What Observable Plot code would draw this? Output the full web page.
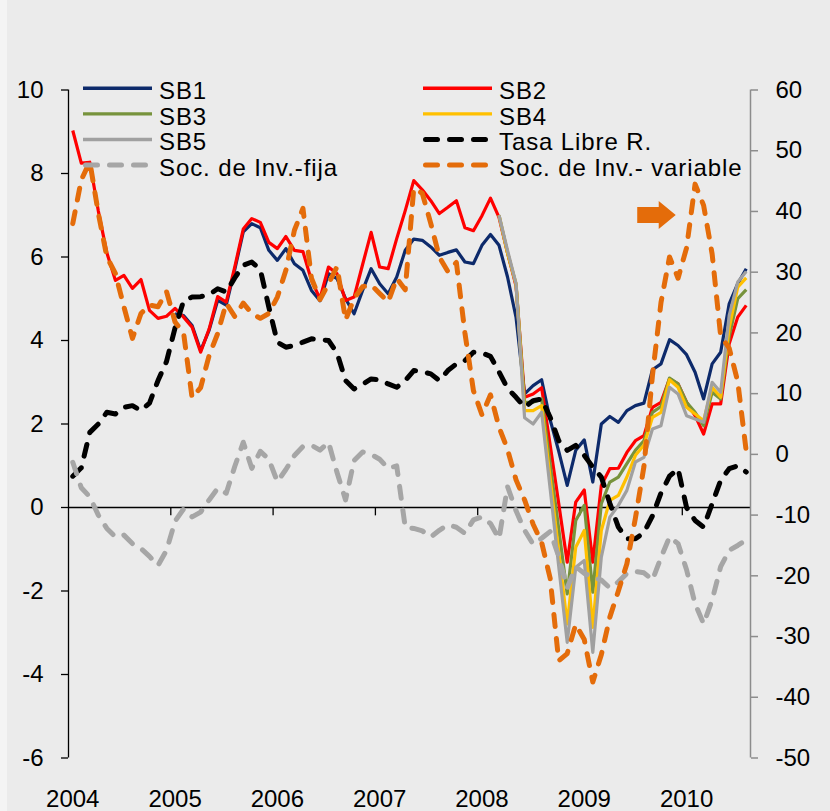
<!DOCTYPE html>
<html>
<head>
<meta charset="utf-8">
<script src="https://cdn.jsdelivr.net/npm/d3@7"></script>
<script src="https://cdn.jsdelivr.net/npm/@observablehq/plot@0.6"></script>
<style>
  html, body { margin: 0; padding: 0; background: #ebebeb; }
  #chart { position: relative; width: 830px; height: 811px; background: #ebebeb; overflow: hidden; }
  #strip { position: absolute; left: 0; top: 0; width: 7px; height: 811px; background: #f4f4f4; }
  #chart svg { position: absolute; left: 0; top: 0; }
</style>
</head>
<body>
<div id="chart"><div id="strip"></div></div>
<script>
// Monthly index: 0 = Jan 2004 ... 79 = Aug 2010
const years = ["2004", "2005", "2006", "2007", "2008", "2009", "2010"];
const leftTicks = [-6, -4, -2, 0, 2, 4, 6, 8, 10];
const rightTicks = [-50, -40, -30, -20, -10, 0, 10, 20, 30, 40, 50, 60];

// Left axis series (start month index given)
const sb1Start = 12;
const sb1 = [4.64, 4.6, 4.36, 3.76, 4.25, 4.96, 4.85, 5.7,
  6.6, 6.8, 6.7, 6.16, 5.92, 6.2, 5.84, 5.68, 5.2, 4.95,
  5.6, 5.48, 5.0, 4.64, 5.2, 5.72, 5.36, 5.12, 5.52, 6.16,
  6.43, 6.4, 6.24, 6.04, 6.11, 6.17, 5.88, 5.84, 6.28, 6.54,
  6.28, 5.52, 4.55, 2.72, 2.92, 3.06, 2.1, 1.35, 0.53, 1.37,
  1.62, 0.61, 2.0, 2.18, 2.04, 2.32, 2.44, 2.5, 3.3, 3.44,
  4.02, 3.88, 3.66, 3.24, 2.6, 3.44, 3.72, 4.88, 5.36, 5.72];
const sb2Start = 0;
const sb2 = [9.03, 8.25, 8.27, 7.1, 6.1, 5.44, 5.56, 5.25, 5.46, 4.72,
  4.53, 4.58, 4.77, 4.56, 4.32, 3.72, 4.28, 5.05, 4.92, 5.76,
  6.67, 6.92, 6.83, 6.35, 6.2, 6.49, 6.16, 6.13, 5.44, 5.0,
  5.76, 5.6, 4.96, 5.04, 5.82, 6.59, 5.76, 5.72, 6.44, 7.11,
  7.83, 7.61, 7.35, 7.04, 7.19, 7.35, 6.7, 6.63, 6.99, 7.41,
  6.95, 6.1, 5.3, 2.64, 2.72, 2.87, 1.5, 0.1, -1.31, 0.13,
  0.42, -1.31, 0.53, 0.93, 0.94, 1.32, 1.6, 1.72, 2.4, 2.52,
  3.08, 2.96, 2.52, 2.2, 1.76, 2.48, 2.48, 3.92, 4.56, 4.84];
const sb3Start = 50;
const sb3 = [7.0, 6.1, 5.35, 2.52, 2.52, 2.6, 1.04, -0.5, -2.07, -0.31,
  0.05, -2.03, 0.09, 0.61, 0.73, 1.05, 1.37, 1.6, 2.28, 2.42,
  3.1, 2.96, 2.52, 2.28, 1.96, 2.76, 2.6, 4.1, 5.0, 5.22];
const sb4Start = 50;
const sb4 = [7.0, 6.1, 5.35, 2.32, 2.32, 2.44, 0.7, -1.05, -2.79, -0.95,
  -0.55, -2.87, -0.55, 0.17, 0.29, 0.73, 1.25, 1.49, 2.16, 2.28,
  3.06, 2.88, 2.4, 2.24, 2.08, 2.88, 2.64, 4.3, 5.28, 5.5];
const sb5Start = 50;
const sb5 = [7.0, 6.16, 5.36, 2.15, 2.0, 2.28, 0.45, -1.4, -3.23, -1.43,
  -1.27, -3.47, -1.19, -0.23, 0.05, 0.41, 1.09, 1.2, 1.88, 1.96,
  2.88, 2.72, 2.2, 2.12, 2.04, 3.0, 2.76, 4.6, 5.4, 5.65];
const tasaStart = 0;
const tasa = [0.75, 0.95, 1.8, 2.0, 2.28, 2.24, 2.4, 2.44, 2.32, 2.5,
  3.04, 3.5, 4.3, 4.95, 5.04, 5.05, 5.1, 5.24, 5.16, 5.5,
  5.8, 5.88, 5.7, 4.8, 3.96, 3.84, 3.88, 3.96, 4.04, 4.02,
  4.0, 3.7, 3.04, 2.84, 2.95, 3.08, 3.06, 2.96, 2.88, 3.04,
  3.28, 3.25, 3.2, 3.04, 3.28, 3.44, 3.52, 3.72, 3.7, 3.62,
  3.25, 2.85, 2.64, 2.4, 2.56, 2.6, 2.16, 1.6, 1.37, 1.49,
  1.25, 0.97, 0.73, 0.1, -0.47, -0.75, -0.75, -0.6, -0.2, 0.35,
  0.75, 0.93, 0.0, -0.31, -0.47, 0.09, 0.65, 0.93, 1.0, 0.85];

// Right axis series
const fijaStart = 0;
const fija = [-1.3, -5.5, -7, -10, -12.2, -13.6, -13.3, -14.7, -15.5, -16.8,
  -18.3, -15.8, -11, -9, -10.3, -9.5, -7.5, -5.6, -6.4, -2,
  2, -2.3, 0.5, -0.8, -4.5, -2.5, -0.2, 1.3, 1.5, 0.7,
  2, -3, -7.5, -1, 0.4, 0, -0.8, -2.3, -1.9, -12,
  -12.2, -12.6, -13.6, -12.5, -11.6, -12, -13, -10.8, -10.3, -11.4,
  -13.9, -5.3, -9.3, -12.5, -14.8, -13.8, -12.7, -16.8, -22, -18.5,
  -19.6, -20.2, -20.7, -22, -21, -19.6, -19.3, -19.5, -20.7, -17,
  -13.6, -14.7, -19, -24.6, -27.9, -24, -18.5, -15.8, -15, -14.1];
const variableStart = 0;
const variable = [38.0, 45.2, 48.2, 39.7, 32.5, 29.8, 24.3, 19.1, 23.2, 24.6,
  24.3, 26.8, 21.8, 20.0, 9.3, 11.0, 16.3, 19.9, 24.9, 22.7,
  24.9, 23.2, 22.4, 23.2, 25.9, 30.3, 36.9, 40.5, 29, 25.5,
  28.1, 30.9, 22.1, 25.7, 27.6, 27.9, 26.5, 25.1, 29.0, 27.1,
  43.8, 43.0, 38.0, 32.5, 30.1, 31.6, 20, 10.5, 6.5, 9.8,
  4.5, 0.8, -4.2, -7.5, -11.5, -14.5, -20.4, -34, -32.8, -28,
  -30.5, -37.5, -33, -26.8, -22.5, -18, -10.5, -2, 13, 25,
  32.5, 29, 34, 44.5, 41, 33, 19.5, 17.5, 12, 0.5];

// annotation arrow (month index, right-axis value)
const arrowNote = [{month: 68.5, value: 39.4}];

// right axis (-50..60) mapped onto left axis (-6..10)
const toLeft = r => -6 + (r + 50) * 16 / 110;
const toRight = l => (l + 6) * 110 / 16 - 50;

const series = [
  {name: "SB1", start: sb1Start, values: sb1, axis: "left", color: "#0d2a6b", width: 3.2, dash: null},
  {name: "SB2", start: sb2Start, values: sb2, axis: "left", color: "#ff0000", width: 3.2, dash: null},
  {name: "SB3", start: sb3Start, values: sb3, axis: "left", color: "#77933c", width: 3.2, dash: null},
  {name: "SB4", start: sb4Start, values: sb4, axis: "left", color: "#ffc000", width: 3.2, dash: null},
  {name: "SB5", start: sb5Start, values: sb5, axis: "left", color: "#a0a0a0", width: 3.2, dash: null},
  {name: "Tasa Libre R.", start: tasaStart, values: tasa, axis: "left", color: "#000000", width: 5, dash: "12,12"},
  {name: "Soc. de Inv.-fija", start: fijaStart, values: fija, axis: "right", color: "#a6a6a6", width: 5, dash: "12,12"},
  {name: "Soc. de Inv.- variable", start: variableStart, values: variable, axis: "right", color: "#e46c0a", width: 5, dash: "12,12"}
];

const toRows = s => s.values.map((v, k) => ({i: s.start + k, v: s.axis === "right" ? toLeft(v) : v}));

const yearIdx = years.map((y, k) => k * 12);
const boundaryIdx = years.slice(1).map((y, k) => (k + 1) * 12 - 0.5);

const arrowSymbol = {
  draw(ctx) {
    ctx.moveTo(-19.5, -8);
    ctx.lineTo(2, -8);
    ctx.lineTo(2, -14);
    ctx.lineTo(19, 0);
    ctx.lineTo(2, 14);
    ctx.lineTo(2, 8);
    ctx.lineTo(-19.5, 8);
    ctx.closePath();
  }
};

const lineMarks = series.map(s => Plot.line(toRows(s), {
  x: "i", y: "v", stroke: s.color, strokeWidth: s.width,
  strokeDasharray: s.dash, strokeLinecap: s.dash ? "round" : "butt", strokeLinejoin: "round"
}));

const FONT = "'Liberation Sans', Arial, sans-serif";

const chart = Plot.plot({
  width: 830,
  height: 811,
  marginLeft: 68,
  marginRight: 80,
  marginTop: 89.5,
  marginBottom: 53.5,
  style: {background: "transparent", fontFamily: FONT, fontSize: "24px", color: "black", overflow: "visible"},
  x: {domain: [-0.5, 79.5], label: null},
  y: {domain: [-6, 10], label: null},
  marks: [
    Plot.ruleY([0], {stroke: "black", strokeWidth: 1.3}),
    Plot.ruleX(boundaryIdx, {x: d => d, y1: 0, y2: -0.2, stroke: "black", strokeWidth: 1.3}),
    ...lineMarks,
    Plot.dot(arrowNote, {x: "month", y: d => toLeft(d.value), symbol: arrowSymbol, fill: "#e46c0a", stroke: "none", r: 10}),
    Plot.ruleX([-0.5], {stroke: "black", strokeWidth: 1.3}),
    Plot.ruleX([79.5], {stroke: "#8c8c8c", strokeWidth: 1.5}),
    Plot.axisY({anchor: "left", label: null, ticks: leftTicks, tickFormat: d => String(d), tickSize: 7, tickPadding: 18, fontSize: 24, stroke: "black", strokeWidth: 1.3}),
    Plot.axisY({anchor: "right", label: null, ticks: rightTicks.map(toLeft), tickFormat: d => String(Math.round(toRight(d))), tickSize: 7, tickPadding: 18, fontSize: 24, stroke: "#8c8c8c", fill: "black", strokeWidth: 1.5}),
    Plot.axisX({anchor: "bottom", label: null, ticks: yearIdx, tickFormat: d => years[Math.round(d / 12)], tickSize: 0, tickPadding: 31.5, fontSize: 24})
  ]
});

document.getElementById("chart").appendChild(chart);

// Legend (two columns, four rows), drawn over the plot
const legendCols = [{x0: 83, x1: 152, tx: 159}, {x0: 423, x1: 492, tx: 499}];
const legendRow0 = 88.3, legendStep = 25.6;
const lg = d3.select(chart).append("g").attr("class", "legend");
series.forEach((s, k) => {
  const c = legendCols[k % 2];
  const y = legendRow0 + Math.floor(k / 2) * legendStep;
  const ln = lg.append("line")
    .attr("x1", s.dash ? c.x0 + 2.5 : c.x0).attr("x2", s.dash ? c.x1 - 5 : c.x1)
    .attr("y1", y).attr("y2", y)
    .attr("stroke", s.color).attr("stroke-width", s.dash ? 5 : 3.4);
  if (s.dash) ln.attr("stroke-dasharray", s.dash).attr("stroke-linecap", "round");
  lg.append("text")
    .attr("x", c.tx).attr("y", y + 10.9)
    .attr("text-anchor", "start")
    .attr("font-family", FONT)
    .attr("font-size", 24)
    .attr("letter-spacing", "0.9px")
    .attr("fill", "black")
    .text(s.name);
});
</script>
</body>
</html>
